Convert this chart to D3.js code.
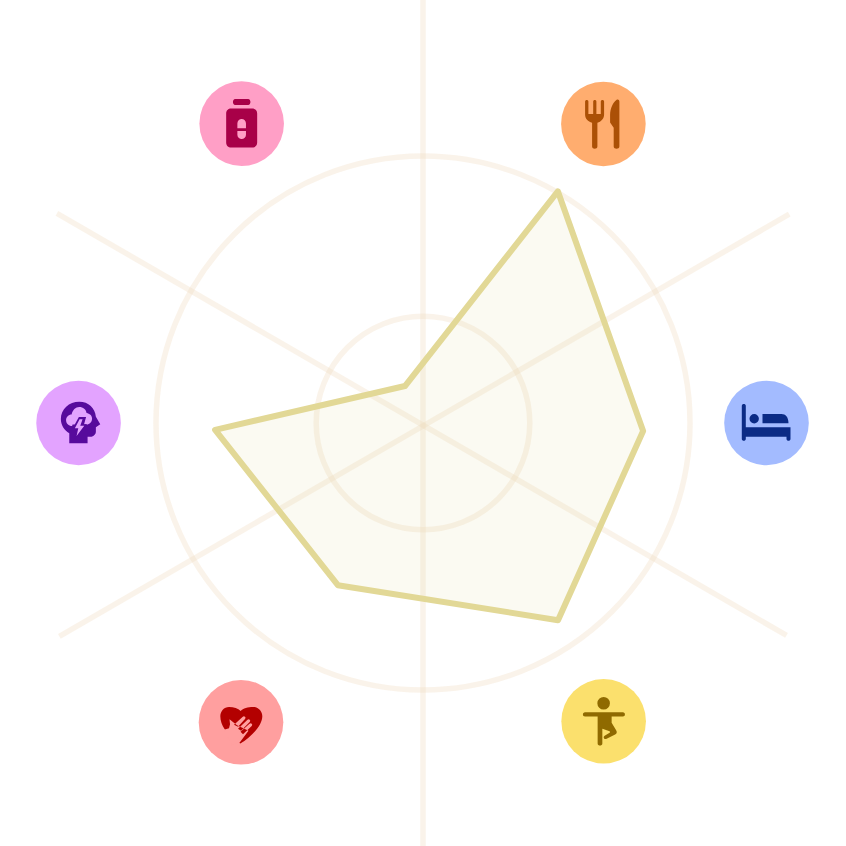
<!DOCTYPE html>
<html><head><meta charset="utf-8">
<script src="https://cdn.jsdelivr.net/npm/d3@7"></script>
<style>html,body{margin:0;padding:0;background:#fff}svg{display:block}</style>
</head><body><svg id="c" width="846" height="846"></svg>
<script>
const categories = ["food","sleep","exercise","relationships","stress","medication"];
// values read on a 0–100 radial scale, with the angle each vertex sits at
const values = [100.4, 82.5, 89.5, 68.6, 77.9, 15.4];
const valueAngles = [30.2, 92.1, 145.6, 207.7, 268.1, 334];
const ringValues = [40, 100];
const spokeAngles = [[0, 180], [60.3, 239.6], [299.8, 120.3]];
const spokeValues = [[158.4, 158.4], [157.9, 157.9], [158, 157.7]];
const iconValues = [130.8, 128.65, 130.6, 131.2, 129, 131.1];
const iconAngles = [31.1, 90, 148.8, 211.3, 270, 328.8];
const circleColors = ["#ffad6f","#a3bbff","#fbe06d","#ff9f9f","#e3a3ff","#ff9fc6"];
const iconColors = ["#ab5006","#0b2b85","#8f6a00","#b30000","#570a9c","#a80048"];

// each icon: layers alternate icon colour, circle colour, icon colour...
const iconLayers = {
  food: ["M-18.3-22.5C-18.3-24.5-15-24.500-15-22.500V-10H-10.200V-22.500C-10.200-24.500-7-24.500-7-22.500V-10H-2.600V-22.500C-2.600-24.500 .7-24.500 .7-22.500V-9.500C.7-5.300-2.400-2.200-6-1.300V22.500C-6 25.500-11.300 25.500-11.300 22.500V-1.300C-15.400-2.300-18.300-5.300-18.300-9.500ZM10.300 3.800 6.700-1.500V-9C6.700-16 10-22 13-24C14.500-25 16-24 16-22.500V22.500C16 25.500 10.300 25.500 10.300 22.500Z"],
  sleep: ["M-24.700-17C-24.700-19.600-20.700-19.600-20.700-17V4.300H24V16C24 18.400 20 18.400 20 16V13.700H-20.700V16C-20.700 18.400-24.700 18.400-24.700 16ZM-17-4.300A4.700 4.700 0 1 0-7.600-4.300A4.700 4.700 0 1 0-17-4.300ZM-4-9H15C19-9 22-6 22 .3H-4Z"],
  exercise: ["M-6.300-18A6.300 6.300 0 1 0 6.300-18A6.300 6.300 0 1 0-6.300-18ZM-18.600-9H19.200C22-9 22-4.700 19.200-4.700H8V1.500L12.500 9C13.600 11 13.300 12.300 11.500 13.200L3 17.500C.5 18.700-1 15.800 1 14.500L6 11.500C6.500 11 6.400 10.500 6 10L-1.300 7.500V22.200C-1.300 25-6 25-6 22.200V-4.700H-18.600C-21.400-4.700-21.400-9-18.600-9Z"],
  relationships: [
    "M-.3-11.300C2-14 7-15.300 12-15.300C17.500-15.300 21.300-11 21.300-6C21.300 4 9 15-.7 21.300C-8 16-13 12-16.300 7C-19 3-20.700-1.500-20.700-6C-20.700-11-17-15.300-12-15.300C-7-15.300-3-14-.3-11.300Z",
    "M-11.500-3-11 2-12 6-17 7.500-9 23-1.500 20.500 7.500 8.500-4 3ZM-7 2.500 1.800-5.500A1.400 1.400 0 0 1 4-3.300L-3 4.500ZM-3 6.500 6.500-2.500A1.400 1.400 0 0 1 8.700-.3L0 8.500ZM-.5 9.500 8.500 1.500A1.400 1.400 0 0 1 10.700 3.700L2 12Z"
  ],
  stress: [
    "M-9.300 20.300V10.300C-14.500 7-17.700 2-17.700-4C-17.700-14-9.500-21.300 .7-21.300C10-21.300 16.500-15 17.300-6.300L21.700 1.300 17.300 4.300V9C17.300 11 15.500 13 13 13.700H9V20.300Z",
    "M-6.500 3C-10 3-12.500 .5-12.500-3C-12.500-6-10-8.500-7-8.500C-6-13-3-16 .7-16C4.500-16 7.500-13.500 8-10C11-9.500 13.500-7.500 13.500-4.500C13.500-1 11 1.500 8 1.500H-6Z",
    "M.3-6-6 5.500H-3L-3.800 16 8.500 1 5.500 1.200 7.500-6Z",
    "M1-3.700-3.700 5.300H-.3L-2 13 5.700 2.700H1.700L4-3.700Z"
  ],
  medication: ["M-6.500-24.500H6.500C9.500-24.500 9.500-18.500 6.500-18.500H-6.500C-9.500-18.500-9.500-24.500-6.500-24.500ZM-10.500-15H10.500C13.500-15 15.500-13 15.500-10V19C15.500 22 13.500 24 10.500 24H-10.500C-13.500 24-15.500 22-15.500 19V-10C-15.500-13-13.500-15-10.500-15ZM-4.300 4.600V-.2A4.300 4.300 0 0 1 4.300-.2V4.600ZM-4.300 7.300V11.200A4.300 4.300 0 0 0 4.300 11.200V7.300Z"]
};

const cx = 423, cy = 423;
const r = d3.scaleLinear().domain([0, 100]).range([0, 267]);
const rad = d => d * Math.PI / 180;
const px = (v, a) => cx + r(v) * Math.sin(rad(a));
const py = (v, a) => cy - r(v) * Math.cos(rad(a));

const svg = d3.select("#c");
const gridColor = "#f0dcc0", gridOpacity = 0.33;

svg.append("g").selectAll("circle").data(ringValues).join("circle")
  .attr("cx", cx).attr("cy", cy).attr("r", d => r(d))
  .attr("fill", "none").attr("stroke", gridColor).attr("stroke-opacity", gridOpacity).attr("stroke-width", 5.5);

svg.append("g").selectAll("line").data(spokeAngles).join("line")
  .attr("x1", (d, i) => px(spokeValues[i][0], d[0])).attr("y1", (d, i) => py(spokeValues[i][0], d[0]))
  .attr("x2", (d, i) => px(spokeValues[i][1], d[1])).attr("y2", (d, i) => py(spokeValues[i][1], d[1]))
  .attr("stroke", gridColor).attr("stroke-opacity", gridOpacity).attr("stroke-width", 5.5);

const line = d3.line().x(d => d[0]).y(d => d[1]).curve(d3.curveLinearClosed);
svg.append("path")
  .attr("d", line(values.map((v, i) => [px(v, valueAngles[i]), py(v, valueAngles[i])])))
  .attr("fill", "#e2d896").attr("fill-opacity", 0.12)
  .attr("stroke", "#e2d896").attr("stroke-width", 6).attr("stroke-linejoin", "round");

const icons = svg.append("g").selectAll("g").data(categories).join("g")
  .attr("transform", (d, i) => `translate(${px(iconValues[i], iconAngles[i])},${py(iconValues[i], iconAngles[i])})`);
icons.append("circle").attr("r", 42.3).attr("fill", (d, i) => circleColors[i]);
icons.each(function (d, i) {
  d3.select(this).selectAll("path").data(iconLayers[d]).join("path")
    .attr("d", p => p).attr("fill-rule", "evenodd")
    .attr("fill", (p, k) => k % 2 ? circleColors[i] : iconColors[i]);
});
</script></body></html>
